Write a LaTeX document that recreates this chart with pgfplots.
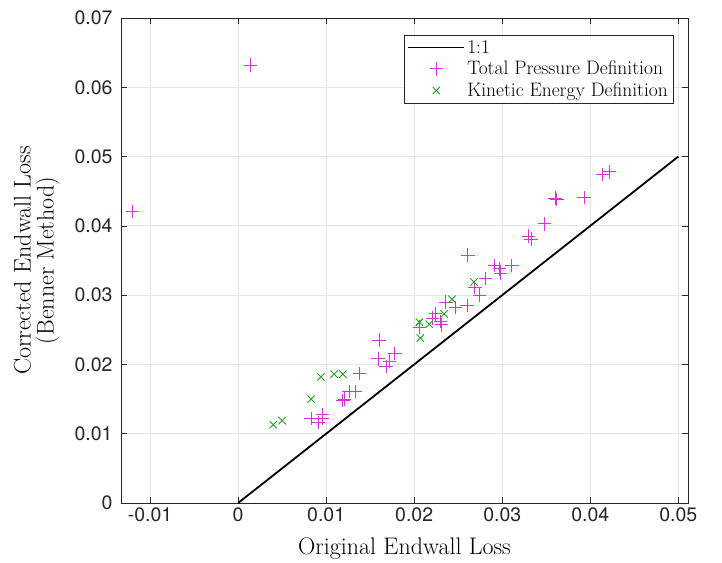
\documentclass[border=0pt]{standalone}
\usepackage{pgfplots}
\pgfplotsset{compat=1.18}
\usepackage{fontspec}
\newfontfamily\helv{TeX Gyre Heros}
\definecolor{mag}{RGB}{215,50,215}
\definecolor{grn}{RGB}{30,160,30}
\definecolor{axc}{RGB}{38,38,38}
\begin{document}
\begin{tikzpicture}[x=1pt,y=1pt]
\begin{axis}[
  scale only axis,
  width=567pt, height=485pt,
  xmin=-0.0133, xmax=0.0511,
  ymin=0, ymax=0.07,
  scaled ticks=false,
  xtick={-0.01,0,0.01,0.02,0.03,0.04,0.05},
  xticklabels={-0.01,0,0.01,0.02,0.03,0.04,0.05},
  ytick={0,0.01,0.02,0.03,0.04,0.05,0.06,0.07},
  yticklabels={0,0.01,0.02,0.03,0.04,0.05,0.06,0.07},
  ticklabel style={font=\helv\fontsize{19.5}{22}\selectfont, text=axc},
  yticklabel style={xshift=-5pt},
  xticklabel style={yshift=-1pt},
  tick align=inside,
  major tick length=6pt,
  tick style={axc, line width=0.7pt},
  axis line style={axc, line width=0.7pt},
  grid=major,
  major grid style={color=black!10, line width=0.9pt},
  xlabel={Original Endwall Loss},
  ylabel={Corrected Endwall Loss\\(Benner Method)},
  ylabel style={align=center, font=\fontsize{24}{23}\selectfont, yshift=8pt},
  xlabel style={font=\fontsize{24}{24}\selectfont, yshift=-9pt},
  legend style={at={(0.974,0.965)}, anchor=north east, draw=axc, line width=0.7pt,
    font=\fontsize{19.5}{21}\selectfont, cells={anchor=west}, row sep=2.5pt,
    inner sep=3pt},
  legend cell align=left,
  legend image code/.code={\draw[mark repeat=2,mark phase=2,#1] plot coordinates {(0pt,0pt) (28pt,0pt) (56pt,0pt)};},
]
\addplot[black, line width=1.8pt] coordinates {(0,0) (0.05,0.05)};
\addlegendentry{1:1}
\addplot[only marks, mark=+, mark size=6.8pt, mag, mark options={line width=0.9pt}] coordinates {
(-0.0120,0.0421) (0.00142,0.0632) (0.0422,0.0478) (0.0414,0.0474)
(0.0360,0.0440) (0.0362,0.0438) (0.0393,0.0441) (0.0348,0.0403)
(0.0330,0.0385) (0.0333,0.0381) (0.0261,0.0358) (0.0291,0.0343)
(0.0297,0.0338) (0.0298,0.0332) (0.0311,0.0343) (0.0281,0.0324)
(0.0269,0.0311) (0.0274,0.0300) (0.0260,0.0285) (0.0236,0.0290)
(0.0247,0.0282) (0.0224,0.0273) (0.0221,0.0267) (0.0230,0.0262)
(0.0231,0.0257) (0.0206,0.0254) (0.0160,0.0235) (0.0159,0.0208)
(0.0178,0.0216) (0.0172,0.0205) (0.0168,0.0197) (0.0138,0.0187)
(0.0126,0.0161) (0.0133,0.0161) (0.0121,0.0150) (0.0119,0.0148)
(0.0096,0.0128) (0.0083,0.0122) (0.0091,0.0116) (0.0096,0.0122)
};
\addlegendentry{Total Pressure Definition}
\addplot[only marks, mark=x, mark size=5.2pt, grn, mark options={line width=0.9pt}] coordinates {
(0.0268,0.0319) (0.0243,0.0294) (0.0234,0.0273) (0.0217,0.0258)
(0.0206,0.0261) (0.0207,0.0238) (0.0094,0.0182) (0.0109,0.0186)
(0.0119,0.0186) (0.0083,0.0150) (0.0040,0.0113) (0.0050,0.0119)
};
\addlegendentry{Kinetic Energy Definition}
\end{axis}
\pgfresetboundingbox
\path[use as bounding box] (current axis.south west) ++(-121pt,-59pt) rectangle ++(722pt,562pt);
\end{tikzpicture}
\end{document}
